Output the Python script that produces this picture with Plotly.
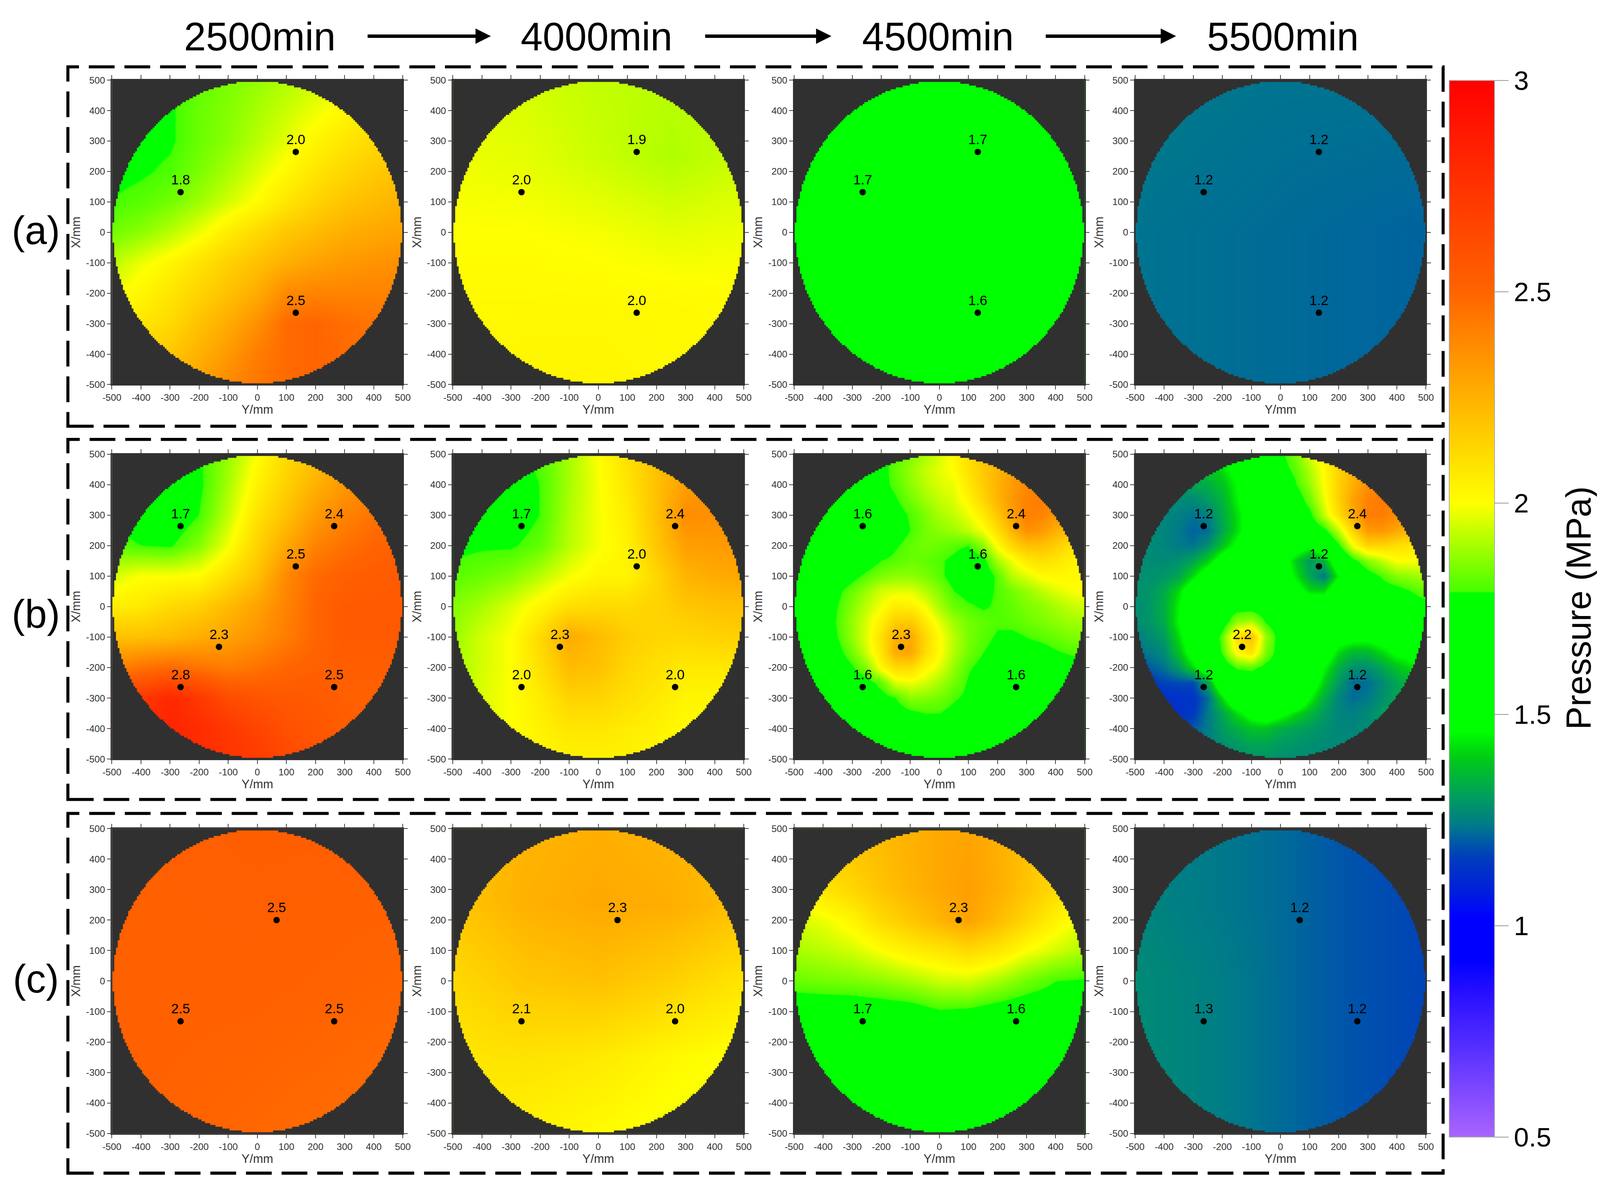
import plotly.graph_objects as go

# the browser page measures about 4105 x 3058 css px; reference pixels map onto that
REF_W, REF_H = 4299, 3072
SX = 4105 / REF_W
SY = 3058 / REF_H
S = 0.97  # sizes of text and marks
BODY = 8  # default page margin
W, H = 4105 - 2 * BODY, 3058 - 2 * BODY
FONT = "Liberation Sans"

# colour bar stops (pressure, colour)
stop_values = [0.5, 0.7, 0.84, 0.92, 1.02, 1.08, 1.16, 1.2, 1.235, 1.31, 1.4, 1.46,
               1.788, 1.79, 2.0, 2.5, 3.0]
stop_colors = ["#aa64ff", "#5a32ff", "#280fff", "#0000ff", "#0000ff", "#001edc", "#003cbe",
               "#005aa5", "#00788c", "#00a05a", "#00cd14", "#00ff00",
               "#00ff00", "#46ff00", "#ffff00", "#ff6400", "#ff0000"]
bar_ticks = [0.5, 1, 1.5, 2, 2.5, 3]
bar_labels = ["0.5", "1", "1.5", "2", "2.5", "3"]

axis_ticks = [-500, -400, -300, -200, -100, 0, 100, 200, 300, 400, 500]
axis_labels = ["-500", "-400", "-300", "-200", "-100", "0", "100", "200", "300", "400", "500"]

times = ["2500min", "4000min", "4500min", "5500min"]
rows_names = ["(a)", "(b)", "(c)"]

# sensor positions, one pair of lists per row
sensor_y_a = [132, -264, 132]
sensor_x_a = [264, 132, -264]
sensor_y_b = [-264, 264, 132, -132, -264, 264]
sensor_x_b = [264, 264, 132, -132, -264, -264]
sensor_y_c = [66, -264, 264]
sensor_x_c = [200, -132, -132]

# sensor readings
read_a1 = ["2.0", "1.8", "2.5"]
read_a2 = ["1.9", "2.0", "2.0"]
read_a3 = ["1.7", "1.7", "1.6"]
read_a4 = ["1.2", "1.2", "1.2"]
read_b1 = ["1.7", "2.4", "2.5", "2.3", "2.8", "2.5"]
read_b2 = ["1.7", "2.4", "2.0", "2.3", "2.0", "2.0"]
read_b3 = ["1.6", "2.4", "1.6", "2.3", "1.6", "1.6"]
read_b4 = ["1.2", "2.4", "1.2", "2.2", "1.2", "1.2"]
read_c1 = ["2.5", "2.5", "2.5"]
read_c2 = ["2.3", "2.1", "2.0"]
read_c3 = ["2.3", "1.7", "1.6"]
read_c4 = ["1.2", "1.3", "1.2"]

# pressure; rows run from X=500 down to X=-500, columns from Y=-500 to Y=500
z_a1 = [
    [1.76, 1.77, 1.79, 1.82, 1.85, 1.88, 1.91, 1.94, 1.97, 2.00, 2.03],
    [1.76, 1.77, 1.78, 1.83, 1.86, 1.90, 1.94, 1.98, 2.02, 2.06, 2.10],
    [1.76, 1.77, 1.78, 1.83, 1.87, 1.92, 1.97, 2.03, 2.08, 2.12, 2.15],
    [1.77, 1.78, 1.80, 1.85, 1.90, 1.96, 2.02, 2.08, 2.13, 2.17, 2.20],
    [1.79, 1.81, 1.84, 1.89, 1.95, 2.01, 2.08, 2.14, 2.19, 2.22, 2.25],
    [1.84, 1.87, 1.92, 1.98, 2.06, 2.12, 2.18, 2.22, 2.26, 2.28, 2.30],
    [1.92, 1.98, 2.03, 2.09, 2.15, 2.20, 2.26, 2.30, 2.33, 2.35, 2.36],
    [1.98, 2.03, 2.08, 2.14, 2.20, 2.27, 2.38, 2.40, 2.40, 2.40, 2.40],
    [2.04, 2.08, 2.12, 2.20, 2.27, 2.36, 2.48, 2.50, 2.47, 2.45, 2.44],
    [2.10, 2.14, 2.18, 2.25, 2.33, 2.42, 2.48, 2.50, 2.48, 2.46, 2.45],
    [2.16, 2.20, 2.24, 2.30, 2.38, 2.44, 2.48, 2.50, 2.48, 2.46, 2.45],
]
z_a2 = [
    [1.96, 1.95, 1.93, 1.92, 1.93],
    [1.98, 1.97, 1.94, 1.91, 1.94],
    [2.00, 2.00, 1.99, 1.97, 1.98],
    [2.02, 2.02, 2.02, 2.02, 2.01],
    [2.02, 2.03, 2.03, 2.02, 2.01],
]
z_a3 = [
    [1.70, 1.70, 1.70],
    [1.70, 1.68, 1.68],
    [1.65, 1.65, 1.62],
]
z_a4 = [
    [1.24, 1.23, 1.23],
    [1.23, 1.22, 1.21],
    [1.23, 1.22, 1.21],
]
z_b1 = [
    [1.70, 1.70, 1.72, 1.78, 1.88, 2.00, 2.12, 2.20, 2.28, 2.32, 2.35],
    [1.72, 1.72, 1.72, 1.77, 1.90, 2.04, 2.15, 2.25, 2.33, 2.38, 2.42],
    [1.76, 1.74, 1.72, 1.79, 1.93, 2.09, 2.20, 2.32, 2.40, 2.45, 2.48],
    [1.82, 1.79, 1.78, 1.86, 1.99, 2.14, 2.28, 2.40, 2.46, 2.50, 2.52],
    [1.95, 2.00, 2.00, 2.01, 2.10, 2.20, 2.38, 2.48, 2.52, 2.54, 2.55],
    [2.05, 2.07, 2.12, 2.15, 2.22, 2.30, 2.40, 2.50, 2.55, 2.55, 2.55],
    [2.20, 2.20, 2.22, 2.26, 2.30, 2.35, 2.42, 2.50, 2.55, 2.55, 2.55],
    [2.40, 2.45, 2.48, 2.45, 2.42, 2.45, 2.50, 2.52, 2.53, 2.53, 2.53],
    [2.65, 2.72, 2.80, 2.72, 2.62, 2.58, 2.56, 2.55, 2.52, 2.52, 2.52],
    [2.70, 2.78, 2.82, 2.78, 2.72, 2.66, 2.60, 2.57, 2.54, 2.52, 2.52],
    [2.70, 2.78, 2.80, 2.78, 2.74, 2.70, 2.64, 2.60, 2.56, 2.52, 2.50],
]
z_b2 = [
    [1.76, 1.76, 1.77, 1.80, 1.90, 2.00, 2.10, 2.20, 2.28, 2.32, 2.34],
    [1.76, 1.76, 1.76, 1.79, 1.90, 1.99, 2.08, 2.20, 2.31, 2.35, 2.36],
    [1.76, 1.76, 1.74, 1.79, 1.91, 1.99, 2.06, 2.20, 2.37, 2.36, 2.36],
    [1.77, 1.78, 1.78, 1.82, 1.92, 1.99, 2.04, 2.18, 2.31, 2.32, 2.33],
    [1.81, 1.83, 1.86, 1.92, 1.99, 2.03, 2.03, 2.13, 2.24, 2.27, 2.28],
    [1.86, 1.90, 1.96, 2.03, 2.10, 2.12, 2.12, 2.14, 2.18, 2.20, 2.20],
    [1.88, 1.95, 2.00, 2.12, 2.27, 2.22, 2.16, 2.13, 2.13, 2.14, 2.15],
    [1.90, 1.95, 2.00, 2.10, 2.22, 2.20, 2.13, 2.10, 2.07, 2.07, 2.08],
    [1.90, 1.96, 2.00, 2.06, 2.14, 2.14, 2.10, 2.07, 2.03, 2.03, 2.04],
    [1.92, 1.96, 2.00, 2.04, 2.08, 2.08, 2.06, 2.04, 2.01, 2.00, 2.00],
    [1.93, 1.96, 2.00, 2.02, 2.04, 2.04, 2.04, 2.02, 2.00, 2.00, 2.00],
]
z_b3 = [
    [1.70, 1.70, 1.70, 1.70, 1.72, 1.74, 1.76, 1.80, 1.85, 1.90, 1.95, 2.02, 2.10, 2.20, 2.28, 2.33, 2.36, 2.38, 2.38, 2.38, 2.38],
    [1.70, 1.70, 1.70, 1.70, 1.72, 1.74, 1.76, 1.82, 1.88, 1.93, 1.97, 2.01, 2.09, 2.17, 2.24, 2.30, 2.35, 2.38, 2.38, 2.38, 2.38],
    [1.70, 1.70, 1.70, 1.70, 1.71, 1.73, 1.76, 1.81, 1.87, 1.92, 1.96, 1.98, 2.07, 2.16, 2.24, 2.32, 2.38, 2.42, 2.40, 2.38, 2.36],
    [1.70, 1.70, 1.70, 1.70, 1.70, 1.72, 1.74, 1.78, 1.84, 1.89, 1.93, 1.96, 2.03, 2.13, 2.24, 2.33, 2.40, 2.42, 2.38, 2.34, 2.32],
    [1.70, 1.70, 1.70, 1.70, 1.70, 1.71, 1.72, 1.75, 1.80, 1.85, 1.90, 1.93, 1.98, 2.06, 2.18, 2.31, 2.41, 2.40, 2.34, 2.30, 2.27],
    [1.70, 1.70, 1.70, 1.70, 1.70, 1.70, 1.71, 1.74, 1.79, 1.84, 1.87, 1.89, 1.93, 1.99, 2.10, 2.24, 2.36, 2.33, 2.26, 2.20, 2.16],
    [1.70, 1.70, 1.70, 1.70, 1.70, 1.70, 1.72, 1.78, 1.82, 1.84, 1.83, 1.81, 1.79, 1.87, 2.01, 2.13, 2.20, 2.20, 2.16, 2.10, 2.07],
    [1.70, 1.70, 1.70, 1.70, 1.70, 1.74, 1.79, 1.81, 1.83, 1.82, 1.80, 1.77, 1.72, 1.76, 1.90, 1.98, 2.07, 2.10, 2.08, 2.04, 2.02],
    [1.70, 1.70, 1.70, 1.72, 1.76, 1.81, 1.85, 1.87, 1.87, 1.85, 1.81, 1.75, 1.68, 1.72, 1.81, 1.92, 1.96, 2.01, 2.02, 2.02, 2.01],
    [1.70, 1.70, 1.70, 1.77, 1.83, 1.89, 1.95, 1.97, 1.97, 1.92, 1.86, 1.79, 1.76, 1.76, 1.80, 1.84, 1.88, 1.92, 1.96, 1.99, 2.01],
    [1.70, 1.70, 1.72, 1.79, 1.86, 1.93, 1.99, 2.06, 2.05, 1.99, 1.90, 1.83, 1.80, 1.78, 1.80, 1.82, 1.85, 1.87, 1.90, 1.93, 1.95],
    [1.70, 1.70, 1.72, 1.80, 1.88, 1.96, 2.05, 2.16, 2.17, 2.07, 1.97, 1.89, 1.84, 1.82, 1.80, 1.81, 1.83, 1.85, 1.87, 1.89, 1.90],
    [1.70, 1.70, 1.72, 1.79, 1.88, 1.97, 2.10, 2.25, 2.28, 2.13, 2.01, 1.92, 1.85, 1.81, 1.78, 1.77, 1.79, 1.81, 1.83, 1.85, 1.86],
    [1.70, 1.70, 1.71, 1.76, 1.84, 1.95, 2.08, 2.27, 2.29, 2.12, 2.01, 1.91, 1.84, 1.79, 1.76, 1.74, 1.74, 1.75, 1.78, 1.80, 1.81],
    [1.70, 1.70, 1.70, 1.72, 1.78, 1.86, 2.02, 2.12, 2.12, 2.03, 1.97, 1.88, 1.80, 1.76, 1.72, 1.70, 1.70, 1.70, 1.72, 1.74, 1.76],
    [1.70, 1.70, 1.70, 1.70, 1.72, 1.75, 1.82, 1.96, 1.98, 1.95, 1.90, 1.84, 1.78, 1.72, 1.70, 1.70, 1.70, 1.70, 1.70, 1.70, 1.70],
    [1.70, 1.70, 1.70, 1.70, 1.70, 1.72, 1.75, 1.79, 1.87, 1.86, 1.84, 1.80, 1.77, 1.72, 1.70, 1.70, 1.70, 1.70, 1.70, 1.70, 1.70],
    [1.70, 1.70, 1.70, 1.70, 1.70, 1.70, 1.72, 1.74, 1.77, 1.79, 1.79, 1.76, 1.72, 1.70, 1.70, 1.70, 1.70, 1.70, 1.70, 1.70, 1.70],
    [1.70] * 21,
    [1.70] * 21,
    [1.70] * 21,
]
z_b4 = [
    [1.30, 1.30, 1.32, 1.34, 1.36, 1.40, 1.44, 1.50, 1.55, 1.65, 1.77, 1.84, 1.96, 2.06, 2.14, 2.22, 2.27, 2.30, 2.32, 2.32, 2.32],
    [1.28, 1.28, 1.30, 1.32, 1.35, 1.38, 1.42, 1.50, 1.56, 1.65, 1.75, 1.81, 1.91, 2.01, 2.14, 2.24, 2.30, 2.35, 2.35, 2.35, 2.35],
    [1.27, 1.27, 1.28, 1.30, 1.32, 1.34, 1.38, 1.46, 1.55, 1.62, 1.70, 1.78, 1.88, 2.00, 2.14, 2.26, 2.36, 2.40, 2.38, 2.36, 2.35],
    [1.27, 1.27, 1.27, 1.27, 1.27, 1.30, 1.35, 1.45, 1.55, 1.62, 1.68, 1.72, 1.83, 1.98, 2.15, 2.30, 2.40, 2.43, 2.40, 2.37, 2.35],
    [1.27, 1.27, 1.26, 1.25, 1.23, 1.25, 1.33, 1.42, 1.52, 1.60, 1.65, 1.70, 1.76, 1.93, 2.10, 2.28, 2.42, 2.42, 2.37, 2.33, 2.30],
    [1.27, 1.27, 1.26, 1.24, 1.21, 1.22, 1.32, 1.42, 1.52, 1.60, 1.64, 1.67, 1.70, 1.76, 1.93, 2.15, 2.33, 2.34, 2.28, 2.22, 2.18],
    [1.28, 1.27, 1.26, 1.24, 1.23, 1.28, 1.38, 1.48, 1.60, 1.65, 1.62, 1.55, 1.48, 1.60, 1.77, 2.00, 2.13, 2.13, 2.10, 2.08, 2.05],
    [1.28, 1.27, 1.27, 1.28, 1.32, 1.40, 1.52, 1.60, 1.68, 1.65, 1.55, 1.40, 1.30, 1.35, 1.58, 1.76, 1.86, 1.93, 2.00, 2.00, 1.99],
    [1.28, 1.28, 1.29, 1.32, 1.42, 1.54, 1.62, 1.68, 1.70, 1.66, 1.55, 1.44, 1.32, 1.24, 1.45, 1.65, 1.74, 1.80, 1.86, 1.88, 1.90],
    [1.28, 1.29, 1.33, 1.42, 1.56, 1.64, 1.70, 1.72, 1.72, 1.68, 1.62, 1.52, 1.42, 1.42, 1.60, 1.68, 1.72, 1.74, 1.75, 1.79, 1.82],
    [1.27, 1.29, 1.34, 1.45, 1.58, 1.66, 1.72, 1.74, 1.74, 1.72, 1.70, 1.65, 1.60, 1.58, 1.62, 1.66, 1.68, 1.70, 1.72, 1.75, 1.76],
    [1.27, 1.29, 1.33, 1.46, 1.60, 1.68, 1.72, 1.87, 1.90, 1.78, 1.72, 1.70, 1.68, 1.62, 1.58, 1.60, 1.62, 1.62, 1.62, 1.62, 1.62],
    [1.25, 1.27, 1.30, 1.42, 1.56, 1.66, 1.82, 2.10, 2.20, 1.88, 1.74, 1.70, 1.66, 1.60, 1.52, 1.50, 1.50, 1.52, 1.55, 1.55, 1.55],
    [1.22, 1.24, 1.27, 1.38, 1.52, 1.62, 1.80, 2.02, 2.10, 1.85, 1.74, 1.72, 1.66, 1.55, 1.42, 1.36, 1.36, 1.42, 1.48, 1.50, 1.50],
    [1.18, 1.20, 1.23, 1.30, 1.42, 1.58, 1.70, 1.80, 1.81, 1.76, 1.74, 1.70, 1.62, 1.46, 1.34, 1.28, 1.28, 1.32, 1.38, 1.42, 1.44],
    [1.14, 1.15, 1.17, 1.18, 1.18, 1.32, 1.60, 1.70, 1.72, 1.74, 1.74, 1.68, 1.56, 1.40, 1.30, 1.22, 1.22, 1.27, 1.32, 1.36, 1.38],
    [1.12, 1.12, 1.13, 1.13, 1.14, 1.22, 1.42, 1.60, 1.70, 1.72, 1.72, 1.65, 1.46, 1.34, 1.26, 1.22, 1.24, 1.28, 1.32, 1.34, 1.36],
    [1.13, 1.13, 1.13, 1.13, 1.15, 1.24, 1.32, 1.42, 1.50, 1.56, 1.50, 1.42, 1.36, 1.30, 1.26, 1.25, 1.27, 1.30, 1.32, 1.33, 1.34],
    [1.16, 1.16, 1.17, 1.18, 1.20, 1.24, 1.30, 1.34, 1.38, 1.38, 1.34, 1.32, 1.30, 1.28, 1.26, 1.26, 1.27, 1.30, 1.32, 1.34, 1.34],
    [1.20, 1.20, 1.21, 1.22, 1.23, 1.25, 1.28, 1.30, 1.32, 1.32, 1.30, 1.29, 1.28, 1.27, 1.27, 1.27, 1.28, 1.30, 1.32, 1.33, 1.33],
    [1.24, 1.24, 1.24, 1.25, 1.25, 1.26, 1.27, 1.28, 1.29, 1.29, 1.28, 1.27, 1.27, 1.26, 1.26, 1.26, 1.27, 1.28, 1.29, 1.30, 1.30],
]
z_c1 = [
    [2.52, 2.53, 2.53],
    [2.52, 2.52, 2.50],
    [2.52, 2.49, 2.46],
]
z_c2 = [
    [2.20, 2.24, 2.26, 2.24, 2.20],
    [2.18, 2.25, 2.28, 2.26, 2.20],
    [2.12, 2.18, 2.20, 2.15, 2.08],
    [2.08, 2.09, 2.07, 2.02, 1.99],
    [2.05, 2.04, 2.01, 1.98, 1.96],
]
z_c3 = [
    [2.12, 2.15, 2.18, 2.22, 2.25, 2.28, 2.29, 2.26, 2.20, 2.15, 2.10],
    [2.10, 2.13, 2.17, 2.21, 2.25, 2.28, 2.30, 2.26, 2.20, 2.14, 2.08],
    [2.03, 2.08, 2.13, 2.19, 2.24, 2.28, 2.31, 2.26, 2.19, 2.12, 2.05],
    [1.95, 1.98, 2.03, 2.12, 2.18, 2.24, 2.30, 2.22, 2.13, 2.04, 1.97],
    [1.90, 1.92, 1.95, 2.00, 2.05, 2.08, 2.12, 2.08, 2.00, 1.95, 1.90],
    [1.83, 1.84, 1.85, 1.87, 1.90, 1.94, 1.95, 1.90, 1.84, 1.79, 1.78],
    [1.72, 1.72, 1.72, 1.73, 1.74, 1.78, 1.77, 1.74, 1.72, 1.72, 1.72],
    [1.70, 1.70, 1.70, 1.70, 1.70, 1.70, 1.70, 1.70, 1.70, 1.70, 1.70],
    [1.70, 1.70, 1.70, 1.70, 1.70, 1.70, 1.70, 1.70, 1.70, 1.70, 1.70],
    [1.70, 1.70, 1.70, 1.70, 1.70, 1.70, 1.70, 1.70, 1.70, 1.70, 1.70],
    [1.70, 1.70, 1.70, 1.70, 1.70, 1.70, 1.70, 1.70, 1.70, 1.70, 1.70],
]
z_c4 = [
    [1.25, 1.24, 1.22, 1.19, 1.17],
    [1.26, 1.24, 1.22, 1.19, 1.17],
    [1.27, 1.25, 1.22, 1.19, 1.17],
    [1.27, 1.25, 1.22, 1.19, 1.17],
    [1.27, 1.25, 1.22, 1.19, 1.17],
]

maps = [
    [(z_a1, read_a1), (z_a2, read_a2), (z_a3, read_a3), (z_a4, read_a4)],
    [(z_b1, read_b1), (z_b2, read_b2), (z_b3, read_b3), (z_b4, read_b4)],
    [(z_c1, read_c1), (z_c2, read_c2), (z_c3, read_c3), (z_c4, read_c4)],
]
sensors = [(sensor_y_a, sensor_x_a), (sensor_y_b, sensor_x_b), (sensor_y_c, sensor_x_c)]

# layout, in pixels of the reference
col_px = [(300, 1080), (1214, 1994), (2129, 2908), (3043, 3823)]
row_px = [(206, 989), (1168, 1952), (2131, 2915)]
box_px = [(172, 1096), (1130, 2056), (2092, 3017)]
title_x = [696, 1599, 2514, 3439]
arrow_px = [(984, 1316), (1889, 2229), (2802, 3153)]
name_y = [592, 1579, 2517]


def px_x(p):
    return (p * SX - BODY) / W


def px_y(p):
    return 1 - (p * SY - BODY) / H


def wafer_mask(r=496, step=6):
    # dark corners round the wafer, with the blocky edge of the original
    ys = list(range(-r, r, step))
    half = [round(max(r * r - (y + step / 2) ** 2, 0) ** 0.5 / step) * step for y in ys]
    d = "M -500,-500 H 500 V 500 H -500 Z "
    right = [f"L {h},{y} L {h},{y + step}" for h, y in zip(half, ys)]
    left = [f"L {-h},{y + step} L {-h},{y}" for h, y in zip(half[::-1], ys[::-1])]
    pts = " ".join(right + left)
    return d + "M %d,%d " % (-half[0], ys[0]) + pts + " Z"


scale = [[(v - 0.5) / 2.5, c] for v, c in zip(stop_values, stop_colors)]
mask = wafer_mask()

fig = go.Figure()
shapes = []
annotations = []
n = 0
for r, row in enumerate(maps):
    for c, (z, labels) in enumerate(row):
        n += 1
        xa, ya = f"x{n}", f"y{n}"
        step = 1000 / (len(z) - 1)
        grid = [-500 + step * i for i in range(len(z))]
        fig.add_trace(go.Heatmap(
            x=grid, y=grid[::-1], z=z, xaxis=xa, yaxis=ya,
            coloraxis="coloraxis", zsmooth="best", hoverinfo="skip",
        ))
        fig.add_trace(go.Scatter(
            x=sensors[r][0], y=sensors[r][1], text=labels, xaxis=xa, yaxis=ya,
            mode="markers+text", textposition="top center",
            marker=dict(color="black", size=17 * S),
            textfont=dict(family=FONT, size=36 * S, color="black"),
            showlegend=False, cliponaxis=False,
        ))
        shapes.append(dict(type="path", path=mask, xref=xa, yref=ya, layer="above",
                           fillcolor="#303030", line=dict(width=0), fillrule="evenodd"))
        common = dict(
            range=[-500, 500], tickvals=axis_ticks, ticktext=axis_labels,
            ticks="outside", ticklen=10 * S, tickwidth=2, tickcolor="#444",
            showline=True, linecolor="#333", linewidth=3, mirror="allticks",
            showgrid=False, zeroline=False, automargin=False,
            tickfont=dict(family=FONT, size=25 * S, color="#333"),
        )
        fig.update_layout({
            f"xaxis{n}": dict(common, domain=[px_x(col_px[c][0]), px_x(col_px[c][1])], anchor=ya,
                              title=dict(text="Y/mm", standoff=6,
                                         font=dict(family=FONT, size=32 * S, color="#333"))),
            f"yaxis{n}": dict(common, domain=[px_y(row_px[r][1]), px_y(row_px[r][0])], anchor=xa,
                              title=dict(text="X/mm", standoff=6,
                                         font=dict(family=FONT, size=32 * S, color="#333"))),
        })

for top, bottom in box_px:
    shapes.append(dict(type="rect", xref="paper", yref="paper",
                       x0=px_x(182), x1=px_x(3869), y0=px_y(bottom), y1=px_y(top),
                       line=dict(color="black", width=8 * S, dash=f"{68 * S}px,{26 * S}px")))

for text, x in zip(times, title_x):
    annotations.append(dict(text=text, x=px_x(x), y=px_y(94), xref="paper", yref="paper",
                            showarrow=False, xanchor="center", yanchor="middle",
                            font=dict(family=FONT, size=106 * SX, color="black")))
for text, y in zip(rows_names, name_y):
    annotations.append(dict(text=text, x=px_x(96), y=px_y(y), xref="paper", yref="paper",
                            showarrow=False, xanchor="center", yanchor="middle",
                            font=dict(family=FONT, size=106 * SX, color="black")))
for x0, x1 in arrow_px:
    annotations.append(dict(text="", x=px_x(x1), y=px_y(93), xref="paper", yref="paper",
                            ax=(x0 - x1) * SX, ay=0, showarrow=True, arrowhead=2, arrowsize=0.9,
                            arrowwidth=9 * S, arrowcolor="black"))
annotations.append(dict(text="Pressure (MPa)", x=px_x(4232), y=px_y(1564), xref="paper", yref="paper",
                        showarrow=False, textangle=-90, xanchor="center", yanchor="middle",
                        font=dict(family=FONT, size=89, color="black")))

fig.update_layout(
    width=W, height=H, margin=dict(l=0, r=0, t=0, b=0, autoexpand=False),
    paper_bgcolor="white", plot_bgcolor="#303030", showlegend=False,
    shapes=shapes, annotations=annotations,
    coloraxis=dict(
        cmin=0.5, cmax=3, colorscale=scale,
        colorbar=dict(
            x=px_x(3885), xanchor="left", y=px_y(2924), yanchor="bottom",
            len=(2924 - 207) * SY / H, lenmode="fraction",
            thickness=122 * SX, thicknessmode="pixels", xpad=0, ypad=0,
            tickvals=bar_ticks, ticktext=bar_labels,
            ticks="outside", ticklen=37 * SX, tickwidth=2, tickcolor="#999",
            outlinecolor="#aaa", outlinewidth=2,
            tickfont=dict(family=FONT, size=72 * SX, color="black"),
        ),
    ),
)

fig.write_html("out.html")
